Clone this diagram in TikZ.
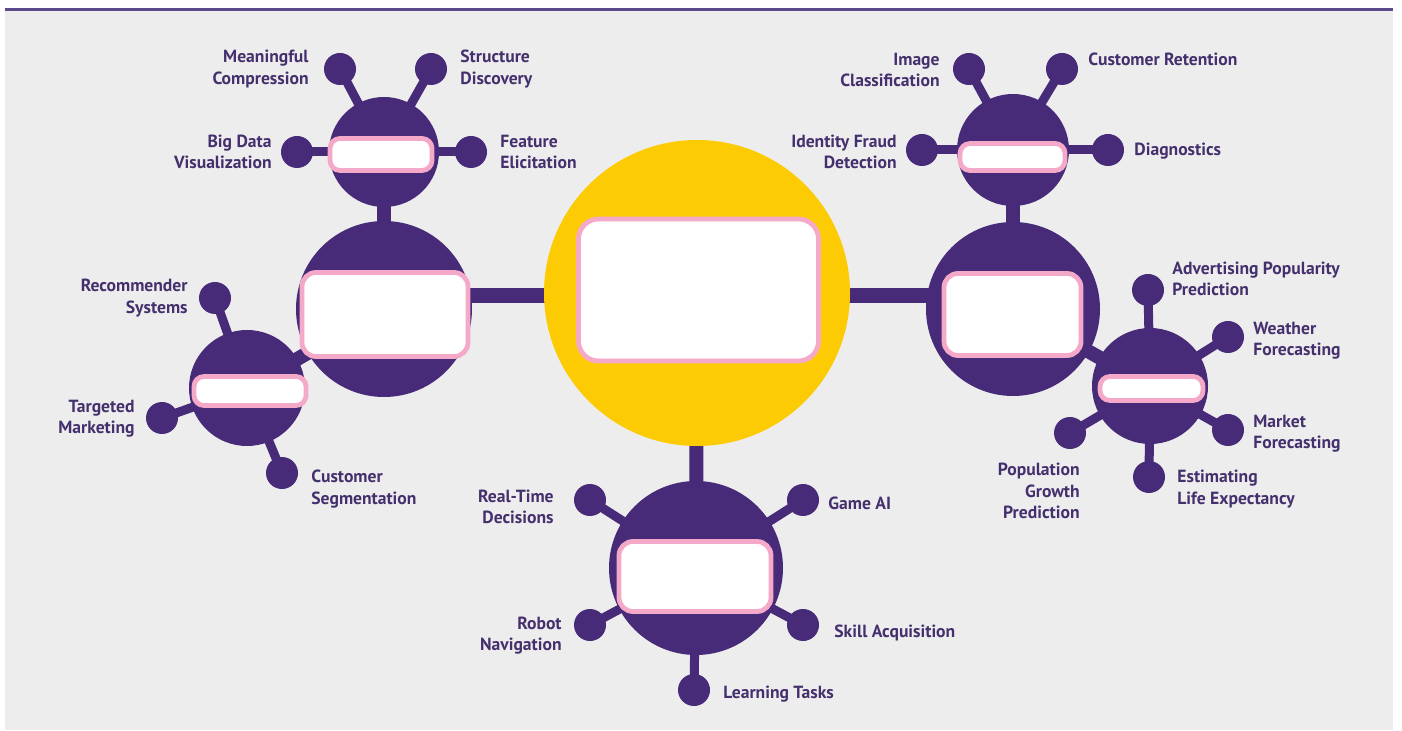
\documentclass[tikz,border=0pt]{standalone}
\usepackage{fontspec}
\setmainfont{PT Sans}
\pgfdeclarelayer{back}
\pgfdeclarelayer{links}
\pgfsetlayers{back,links,main}
\definecolor{pur}{HTML}{472A78}
\definecolor{txt}{HTML}{45306E}
\definecolor{gold}{HTML}{FDCB04}
\definecolor{pinkb}{HTML}{F5A9C9}
\definecolor{panel}{HTML}{EDEDED}
\definecolor{topline}{HTML}{5A4A8A}
\begin{document}
\begin{tikzpicture}[x=0.5pt,y=-0.5pt,
  hub/.style={circle,fill=pur,inner sep=0,outer sep=0,minimum size=#1},
  knob/.style={circle,fill=pur,inner sep=0,outer sep=0,minimum size=16pt},
  screen/.style={rectangle,rounded corners=#1,fill=white,draw=pinkb,line width=2.4pt,inner sep=0,outer sep=0},
  stem/.style={draw=pur,line width=4.5pt},
  neck/.style={draw=pur,line width=7pt},
  bar/.style={draw=pur,line width=7.5pt},
  lab/.style={text=txt,font=\bfseries\fontsize{8.8}{10.6}\selectfont,inner sep=0},
  labr/.style={lab,align=right,anchor=east},
  labl/.style={lab,align=left,anchor=west}]
\useasboundingbox (0,0) rectangle (1402,731);
\begin{pgfonlayer}{back}
  \fill[white] (0,0) rectangle (1402,731);
  \fill[panel] (5,10) rectangle (1393,730);
  \draw[topline,line width=1.5pt] (5,9.5) -- (1393,9.5);
\end{pgfonlayer}

% main hubs
\node[circle,fill=gold,inner sep=0,outer sep=0,minimum size=153pt] (Y) at (697,293) {};
\node[hub=88pt] (L) at (384,309) {};
\node[hub=87pt] (R) at (1013,309) {};
\node[hub=55pt] (TL) at (384,152) {};
\node[hub=56pt] (TR) at (1013,150) {};
\node[hub=58pt] (LL) at (247,388) {};
\node[hub=58pt] (RL) at (1150,386) {};
\node[hub=87pt] (B) at (696,568) {};
\coordinate (Ybar) at (697,295.5);

% screens
\node[screen=10pt,minimum width=120pt,minimum height=71pt] (sY) at (698.5,290) {};
\node[screen=7pt,minimum width=83pt,minimum height=42pt] (sL) at (385,314.5) {};
\node[screen=7pt,minimum width=68.5pt,minimum height=41pt] (sR) at (1012.5,314.5) {};
\node[screen=5pt,minimum width=51pt,minimum height=16pt] (sTL) at (381,154.5) {};
\node[screen=5pt,minimum width=52.5pt,minimum height=13.5pt] (sTR) at (1012.5,157) {};
\node[screen=5pt,minimum width=56pt,minimum height=14.5pt] (sLL) at (250,391) {};
\node[screen=5pt,minimum width=51.5pt,minimum height=12pt] (sRL) at (1151.5,388.5) {};
\node[screen=7pt,minimum width=76pt,minimum height=35pt] (sB) at (695,576.5) {};

% knobs
\node[knob] (k1) at (340,69) {};
\node[knob] (k2) at (431,69) {};
\node[knob] (k3) at (297,152) {};
\node[knob] (k4) at (471,152) {};
\node[knob] (k5) at (969,69) {};
\node[knob] (k6) at (1062,69) {};
\node[knob] (k7) at (922,150) {};
\node[knob] (k8) at (1108,150) {};
\node[knob] (k9) at (215,298) {};
\node[knob] (k10) at (162,418) {};
\node[knob] (k11) at (282,473) {};
\node[knob] (k12) at (1148,290) {};
\node[knob] (k13) at (1228,337) {};
\node[knob] (k14) at (1228,430) {};
\node[knob] (k15) at (1149,477) {};
\node[knob] (k16) at (1070,433) {};
\node[knob] (k17) at (590,500) {};
\node[knob] (k18) at (803,500) {};
\node[knob] (k19) at (590,625) {};
\node[knob] (k20) at (803,625) {};
\node[knob] (k21) at (694,690) {};

\begin{pgfonlayer}{links}
  \draw[bar] (Ybar) -- (Ybar -| L.center);
  \draw[bar] (Ybar) -- (Ybar -| R.center);
  \draw[neck] (Y.center) -- (B.center);
  \draw[neck] (TL.center) -- (L.center);
  \draw[neck] (TR.center) -- (R.center);
  \draw[neck] (LL.center) -- (L.center);
  \draw[neck] (RL.center) -- (R.center);
  \foreach \k in {k1,k2,k3,k4} \draw[stem] (TL.center) -- (\k.center);
  \foreach \k in {k5,k6,k7,k8} \draw[stem] (TR.center) -- (\k.center);
  \foreach \k in {k9,k10,k11} \draw[stem] (LL.center) -- (\k.center);
  \foreach \k in {k12,k13,k14,k15,k16} \draw[stem] (RL.center) -- (\k.center);
  \foreach \k in {k17,k18,k19,k20,k21} \draw[stem] (B.center) -- (\k.center);
\end{pgfonlayer}

% labels
\node[labr] (t1) at (309,69) {Meaningful\\Compression};
\node[labl] (t2) at (460,69) {Structure\\Discovery};
\node[labr] (t3) at (272,152) {Big Data\\Visualization};
\node[labl] (t4) at (500,152) {Feature\\Elicitation};
\node[labr] (t5) at (940,70) {Image\\Classification};
\node[labl] (t6) at (1088,59) {Customer Retention};
\node[labr] (t7) at (897,152) {Identity Fraud\\Detection};
\node[labl] (t8) at (1134,151) {Diagnostics};
\node[labr] (t9) at (188,298) {Recommender\\Systems};
\node[labr] (t10) at (135,419) {Targeted\\Marketing};
\node[labl] (t11) at (311,489) {Customer\\Segmentation};
\node[labl] (t12) at (1172,279) {Advertising Popularity\\Prediction};
\node[labl] (t13) at (1253,341) {Weather\\Forecasting};
\node[labl] (t14) at (1253,434) {Market\\Forecasting};
\node[labl] (t15) at (1177,489) {Estimating\\Life Expectancy};
\node[labr] (t16) at (1080,491) {Population\\Growth\\Prediction};
\node[labr] (t17) at (554,507) {Real-Time\\Decisions};
\node[labl] (t18) at (828,503) {Game AI};
\node[labr] (t19) at (562,636) {Robot\\Navigation};
\node[labl] (t20) at (834,633) {Skill Acquisition};
\node[labl] (t21) at (723,694) {Learning Tasks};
\end{tikzpicture}
\end{document}
